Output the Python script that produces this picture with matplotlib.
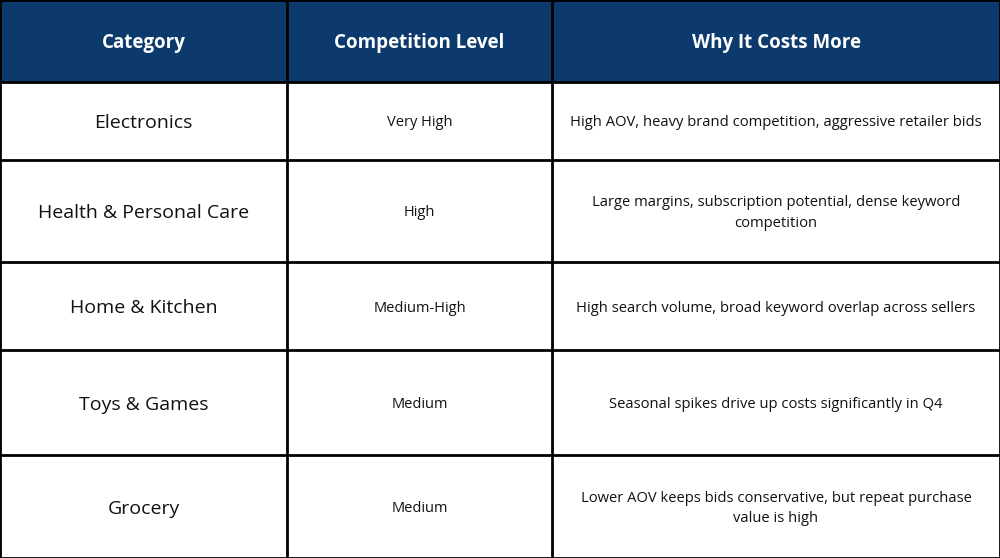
import matplotlib.pyplot as plt
from matplotlib.patches import Rectangle

headers = ['Category', 'Competition Level', 'Why It Costs More']
categories = ['Electronics', 'Health & Personal Care', 'Home & Kitchen', 'Toys & Games', 'Grocery']
competition = ['Very High', 'High', 'Medium-High', 'Medium', 'Medium']
reasons = [
    'High AOV, heavy brand competition, aggressive retailer bids',
    'Large margins, subscription potential, dense keyword\ncompetition',
    'High search volume, broad keyword overlap across sellers',
    'Seasonal spikes drive up costs significantly in Q4',
    'Lower AOV keeps bids conservative, but repeat purchase\nvalue is high',
]

col_edges = [0, 287, 552, 1000]
row_edges = [0, 82, 160, 262, 350, 455, 558]
navy = '#0c3a6d'

fig = plt.figure(figsize=(10, 5.58), dpi=100)
ax = fig.add_axes([0, 0, 1, 1])
ax.set_xlim(0, 1000)
ax.set_ylim(558, 0)
ax.axis('off')

ax.add_patch(Rectangle((0, 0), 1000, row_edges[1], color=navy, zorder=0))
for c, h in enumerate(headers):
    xm = (col_edges[c] + col_edges[c + 1]) / 2
    ax.text(xm, row_edges[1] / 2 + 2, h, color='white', fontsize=13.5, fontweight='bold',
            ha='center', va='center', family='Open Sans')

for r in range(len(categories)):
    ym = (row_edges[r + 1] + row_edges[r + 2]) / 2 + 2
    cells = [categories[r], competition[r], reasons[r]]
    sizes = [14, 10.5, 10.6]
    for c, txt in enumerate(cells):
        xm = (col_edges[c] + col_edges[c + 1]) / 2
        ax.text(xm, ym, txt, fontsize=sizes[c], ha='center', va='center',
                color='#111111', family='Open Sans', linespacing=1.5)

for y in row_edges:
    ax.plot([0, 1000], [y, y], color='black', lw=2, zorder=3)
for x in col_edges:
    ax.plot([x, x], [0, 558], color='black', lw=2, zorder=3)

fig.savefig('out.png', dpi=100)
